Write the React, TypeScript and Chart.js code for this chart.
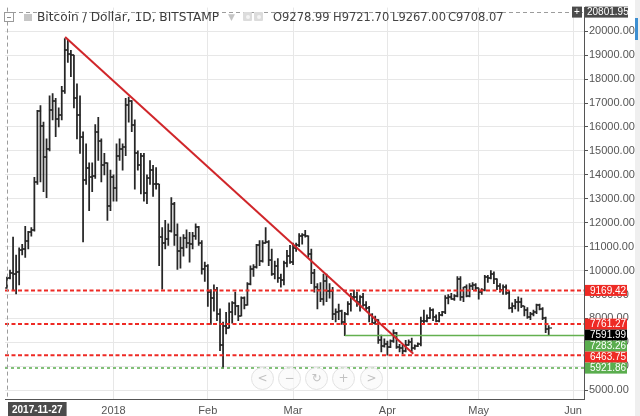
import React, { useEffect, useRef } from 'react';
import { Chart, registerables } from 'chart.js';

Chart.register(...registerables);

// Daily BTC/USD bars, each entry [open, high, low, close]; first bar is 2017-11-27
const nov2017 = [
  [9278.99, 9721.7, 9267.0, 9708.07],
  [9708, 10020, 9650, 9890],
  [9890, 11400, 9200, 9870],
  [9870, 10650, 9020, 9920],
];
const dec2017 = [
  [9920, 10950, 9400, 10860], [10860, 11100, 10650, 10900], [10900, 11850, 10550, 11250],
  [11250, 11640, 10900, 11600], [11600, 11800, 11440, 11700], [11700, 13900, 11650, 13700],
  [13700, 16700, 13600, 16650], [16650, 16900, 13700, 16050], [16050, 16200, 13300, 14750],
  [14750, 15500, 13050, 15100], [15100, 17300, 15000, 16700], [16700, 17400, 16300, 17100],
  [17100, 17200, 15600, 16350], [16350, 16800, 16000, 16500], [16500, 17700, 16300, 17500],
  [17500, 19700, 17400, 19200], [19200, 19660, 18700, 19050], [19050, 19200, 18100, 19000],
  [19000, 19000, 16800, 17200], [17200, 17800, 15500, 16500], [16500, 17300, 14900, 15600],
  [15600, 15800, 11200, 13800], [13800, 15300, 13600, 14300], [14300, 14500, 12500, 13900],
  [13900, 14500, 13300, 13950], [13950, 16100, 13850, 15800], [15800, 16400, 14600, 15400],
  [15400, 15500, 13700, 14400], [14400, 14900, 14000, 14500], [14500, 14500, 12100, 12700],
  [12700, 14200, 12500, 13900],
];
const jan2018 = [
  [13900, 14000, 12900, 13450], [13450, 15300, 12900, 14800], [14800, 15500, 14600, 15100],
  [15100, 15300, 14200, 15150], [15150, 17200, 14800, 16900], [16900, 17250, 16200, 17100],
  [17100, 17100, 15800, 16100], [16100, 16300, 13400, 14900], [14900, 15000, 14200, 14400],
  [14400, 14900, 13200, 14800], [14800, 14900, 12900, 13250], [13250, 14000, 12800, 13850],
  [13850, 14600, 13600, 14200], [14200, 14400, 13100, 13600], [13600, 14300, 13400, 13600],
  [13600, 13600, 10200, 11400], [11400, 11800, 9220, 11150], [11150, 12100, 10900, 11300],
  [11300, 11950, 11050, 11650], [11650, 13050, 11600, 12800], [12800, 12850, 11050, 11500],
  [11500, 11950, 10050, 10800], [10800, 11400, 10100, 10950], [10950, 11500, 10600, 11350],
  [11350, 11700, 10950, 11150], [11150, 11600, 10350, 11100], [11100, 11600, 10900, 11450],
  [11450, 11950, 11300, 11800], [11800, 11850, 11050, 11150], [11150, 11250, 9850, 10050],
  [10050, 10350, 9550, 10200],
];
const feb2018 = [
  [10200, 10250, 8500, 9100], [9100, 9200, 7750, 8850], [8850, 9400, 8300, 9200],
  [9200, 9300, 7900, 8200], [8200, 8400, 6650, 6900], [6900, 7850, 5922, 7700],
  [7700, 8250, 7350, 7600], [7600, 8650, 7600, 8250], [8250, 8700, 7800, 8650],
  [8650, 9100, 8150, 8500], [8500, 8550, 7900, 8100], [8100, 8900, 8100, 8850],
  [8850, 8900, 8400, 8550], [8550, 9500, 8550, 9450], [9450, 10200, 9400, 10050],
  [10050, 10250, 9750, 10150], [10150, 11100, 10100, 11050], [11050, 11250, 10200, 10400],
  [10400, 11250, 10350, 11150], [11150, 11800, 11150, 11200], [11200, 11250, 10200, 10450],
  [10450, 10900, 9800, 9850], [9850, 10400, 9650, 10200], [10200, 10500, 9500, 9700],
  [9700, 9850, 9300, 9600], [9600, 10400, 9400, 10300], [10300, 10850, 10150, 10600],
  [10600, 11050, 10300, 10350],
];
const mar2018 = [
  [10350, 11150, 10250, 10950], [10950, 11150, 10800, 11050], [11050, 11550, 11000, 11450],
  [11450, 11550, 11100, 11500], [11500, 11680, 11400, 11450], [11450, 11450, 10550, 10700],
  [10700, 10900, 9450, 9900], [9900, 10050, 9100, 9300], [9300, 9450, 8400, 9200],
  [9200, 9500, 8700, 8800], [8800, 9850, 8550, 9550], [9550, 9850, 8700, 9150],
  [9150, 9450, 8850, 9150], [9150, 9300, 7950, 8200], [8200, 8400, 7850, 8250],
  [8250, 8600, 7950, 8300], [8300, 8350, 7750, 7850], [7850, 8250, 7283, 8200],
  [8200, 8700, 8150, 8600], [8600, 9050, 8300, 8900], [8900, 9180, 8800, 8900],
  [8900, 9100, 8500, 8700], [8700, 8950, 8300, 8900], [8900, 9050, 8500, 8550],
  [8550, 8700, 8350, 8450], [8450, 8500, 7850, 8150], [8150, 8200, 7750, 7800],
  [7800, 8100, 7750, 7950], [7950, 7950, 6950, 7100], [7100, 7300, 6600, 6850],
  [6850, 7150, 6800, 6950],
];
const apr2018 = [
  [6950, 7050, 6464, 6800], [6800, 7100, 6780, 7050], [7050, 7520, 7000, 7400],
  [7400, 7420, 6750, 6800], [6800, 6920, 6600, 6780], [6780, 6880, 6520, 6620],
  [6620, 7080, 6600, 6900], [6900, 7100, 6880, 7020], [7020, 7180, 6620, 6780],
  [6780, 6900, 6700, 6840], [6840, 6980, 6820, 6950], [6950, 8050, 6850, 7900],
  [7900, 8350, 7800, 7900], [7900, 8150, 7850, 8000], [8000, 8450, 8000, 8350],
  [8350, 8400, 7900, 8050], [8050, 8150, 7850, 7900], [7900, 8250, 7850, 8150],
  [8150, 8300, 8100, 8250], [8250, 8950, 8200, 8850], [8850, 9000, 8600, 8900],
  [8900, 9050, 8800, 8800], [8800, 9000, 8750, 8950], [8950, 9750, 8900, 9650],
  [9650, 9750, 8750, 8900], [8900, 9300, 8700, 9300], [9300, 9400, 8900, 8950],
  [8950, 9450, 8900, 9350], [9350, 9500, 9200, 9400], [9400, 9450, 9150, 9250],
];
const may2018 = [
  [9250, 9250, 8800, 9100], [9100, 9250, 9000, 9200], [9200, 9800, 9150, 9750],
  [9750, 9800, 9500, 9700], [9700, 10000, 9650, 9850], [9850, 9950, 9450, 9650],
  [9650, 9650, 9200, 9350], [9350, 9450, 9100, 9200], [9200, 9400, 9000, 9300],
  [9300, 9400, 9000, 9050], [9050, 9150, 8400, 8450], [8450, 8650, 8250, 8500],
  [8500, 8800, 8400, 8700], [8700, 8900, 8300, 8700], [8700, 8850, 8450, 8500],
  [8500, 8500, 8100, 8350], [8350, 8450, 8000, 8050], [8050, 8250, 7950, 8200],
  [8200, 8350, 8100, 8250], [8250, 8600, 8200, 8550], [8550, 8600, 8350, 8400],
  [8400, 8450, 7950, 8000], [8000, 8050, 7400, 7550], [7550, 7700, 7300, 7591.99],
];

// Month tick positions (day index from 2017-11-27) and labels
const monthTickDays = [35, 66, 94, 125, 155, 186];
const monthTickLabels = ['2018', 'Feb', 'Mar', 'Apr', 'May', 'Jun'];
const priceTicks = [5000, 6000, 7000, 8000, 9000, 10000, 11000, 12000, 13000, 14000, 15000, 16000, 17000, 18000, 19000, 20000];

// Drawn levels
const redLevels = [9169.42, 7761.27, 6463.75];
const greenDashedLevel = 5921.86;
const supportLevel = 7283.26;
const supportStartDay = 111;
const trendDays = [19.1, 133.5];
const trendPrices = [19760, 6520];
const lastClose = 7591.99;

// Crosshair state
const crosshairDay = 0;
const crosshairPrice = 20801.95;
const crosshairDate = '2017-11-27';
const symbolTitle = 'Bitcoin / Dollar, 1D, BITSTAMP';

const xRange = [-0.65, 189.6];
const yRange = [4631, 20990];

const RED = '#ee2a24';
const GREEN = '#5aad4e';
const AXIS_FONT = "'Liberation Sans', Arial, sans-serif";

function makeTick(side: 'left' | 'right', color: string) {
  const c = document.createElement('canvas');
  c.width = 6;
  c.height = 2;
  const g = c.getContext('2d')!;
  g.fillStyle = color;
  if (side === 'left') g.fillRect(0, 0.4, 3.2, 1.2);
  else g.fillRect(2.8, 0.4, 3.2, 1.2);
  return c;
}

const overlayPlugin = {
  id: 'tvOverlay',
  afterDatasetsDraw(chart: any) {
    const { ctx, chartArea, scales } = chart;
    const cx = Math.round(scales.x.getPixelForValue(crosshairDay)) + 0.5;
    const cy = Math.round(scales.y.getPixelForValue(crosshairPrice)) + 0.5;
    ctx.save();
    ctx.strokeStyle = '#9c9c9c';
    ctx.lineWidth = 1;
    ctx.setLineDash([4, 3]);
    ctx.beginPath();
    ctx.moveTo(cx, chartArea.top);
    ctx.lineTo(cx, chartArea.bottom);
    ctx.stroke();
    ctx.beginPath();
    ctx.moveTo(chartArea.left, cy);
    ctx.lineTo(chartArea.right, cy);
    ctx.stroke();
    ctx.restore();
  },
  afterDraw(chart: any) {
    const { ctx, chartArea, scales } = chart;
    const ys = scales.y;
    const xs = scales.x;
    const labels = [
      { v: redLevels[0], bg: RED },
      { v: redLevels[1], bg: RED },
      { v: lastClose, bg: '#000000' },
      { v: supportLevel, bg: GREEN },
      { v: redLevels[2], bg: RED },
      { v: greenDashedLevel, bg: GREEN },
    ].sort((a, b) => b.v - a.v);
    const h = 11;
    const left = chartArea.right + 1;
    const w = 42;
    ctx.save();
    ctx.font = `10px ${AXIS_FONT}`;
    ctx.textBaseline = 'middle';
    ctx.textAlign = 'left';
    let prevBottom = -Infinity;
    for (const l of labels) {
      let top = ys.getPixelForValue(l.v) - h / 2;
      if (top < prevBottom) top = prevBottom;
      ctx.fillStyle = l.bg;
      ctx.fillRect(left, top, w, h);
      ctx.fillStyle = '#ffffff';
      ctx.fillText(l.v.toFixed(2), left + 5, top + h / 2 + 0.5);
      prevBottom = top + h;
    }
    // crosshair price label
    const cy = ys.getPixelForValue(crosshairPrice);
    ctx.fillStyle = '#4b4b4b';
    ctx.fillRect(left, cy - h / 2, w + 1, h);
    ctx.fillRect(chartArea.right - 12, cy - h / 2, 10, h);
    ctx.fillStyle = '#ffffff';
    ctx.fillText(crosshairPrice.toFixed(2), left + 2, cy + 0.5);
    ctx.textAlign = 'center';
    ctx.fillText('+', chartArea.right - 7, cy + 0.5);
    // crosshair date label
    const cx = xs.getPixelForValue(crosshairDay);
    ctx.font = `bold 10px ${AXIS_FONT}`;
    const tw = ctx.measureText(crosshairDate).width + 8;
    const bx = Math.max(cx - tw / 2, chartArea.left + 3);
    ctx.fillStyle = '#4b4b4b';
    ctx.fillRect(bx, chartArea.bottom + 3, tw, 15);
    ctx.fillStyle = '#ffffff';
    ctx.fillText(crosshairDate, bx + tw / 2, chartArea.bottom + 11);
    ctx.restore();
  },
};

export default function App() {
  const ref = useRef<HTMLCanvasElement>(null);

  useEffect(() => {
    document.body.style.margin = '0';
    const canvas = ref.current!;
    const ohlc = [...nov2017, ...dec2017, ...jan2018, ...feb2018, ...mar2018, ...apr2018, ...may2018];
    const barColor = '#262626';
    const leftTick = makeTick('left', barColor);
    const rightTick = makeTick('right', barColor);

    const levelLine = (v: number, color: string, dash: number[], width: number, fromX = xRange[0]) => ({
      type: 'line' as const,
      data: [{ x: fromX, y: v }, { x: xRange[1], y: v }],
      borderColor: color,
      borderWidth: width,
      borderDash: dash,
      pointRadius: 0,
      fill: false,
      tension: 0,
      order: 1,
    });

    const chart = new Chart(canvas, {
      type: 'bar',
      data: {
        datasets: [
          {
            type: 'line',
            data: trendDays.map((d, i) => ({ x: d, y: trendPrices[i] })),
            borderColor: '#d0262a',
            borderWidth: 2,
            pointRadius: 0,
            fill: false,
            order: 0,
          },
          ...redLevels.map((v) => levelLine(v, RED, [4, 2.5], 2)),
          levelLine(greenDashedLevel, GREEN, [3, 3], 1.5),
          levelLine(supportLevel, '#63b04f', [], 1.5, supportStartDay),
          {
            type: 'bar',
            data: ohlc.map((d, i) => ({ x: i, y: [d[2], d[1]] })),
            backgroundColor: barColor,
            barThickness: 1.1,
            order: 5,
          },
          {
            type: 'scatter',
            data: ohlc.map((d, i) => ({ x: i, y: d[0] })),
            pointStyle: leftTick,
            pointRadius: 2,
            order: 5,
          },
          {
            type: 'scatter',
            data: ohlc.map((d, i) => ({ x: i, y: d[3] })),
            pointStyle: rightTick,
            pointRadius: 2,
            order: 5,
          },
        ] as any,
      },
      options: {
        responsive: false,
        animation: false,
        events: [],
        layout: { padding: 0 },
        plugins: { legend: { display: false }, tooltip: { enabled: false } },
        scales: {
          x: {
            type: 'linear',
            min: xRange[0],
            max: xRange[1],
            offset: false,
            grid: { color: '#e7e7e7', drawTicks: false, offset: false },
            border: { display: true, color: '#555555' },
            ticks: {
              autoSkip: false,
              maxRotation: 0,
              padding: 5,
              color: '#555555',
              font: { family: AXIS_FONT, size: 11 },
              callback: (_v: any, i: number) => monthTickLabels[i],
            },
            afterBuildTicks: (s: any) => {
              s.ticks = monthTickDays.map((v) => ({ value: v }));
            },
            afterFit: (s: any) => {
              s.height = 17;
            },
          },
          y: {
            type: 'linear',
            position: 'right',
            min: yRange[0],
            max: yRange[1],
            grid: { color: '#e7e7e7', tickColor: '#555555', tickLength: 4 },
            border: { display: true, color: '#555555' },
            ticks: {
              padding: 1,
              color: '#555555',
              font: { family: AXIS_FONT, size: 11 },
              callback: (v: any) => Number(v).toFixed(2),
            },
            afterBuildTicks: (s: any) => {
              s.ticks = priceTicks.map((v) => ({ value: v }));
            },
            afterFit: (s: any) => {
              s.width = 56;
            },
          },
        },
      } as any,
      plugins: [overlayPlugin],
    });
    return () => chart.destroy();
  }, []);

  const [o, hh, l, c] = nov2017[0];
  const legendItems = [
    { t: 'O' + o.toFixed(2), x: 273 },
    { t: 'H' + hh.toFixed(2), x: 333 },
    { t: 'L' + l.toFixed(2), x: 392 },
    { t: 'C' + c.toFixed(2), x: 448 },
  ];
  const navGlyphs = ['<', '\u2212', '\u21BB', '+', '>'];
  const navX = [262, 289, 316, 343, 371];

  return (
    <div style={{ position: 'absolute', left: 0, top: 0, width: 640, height: 416, background: '#ffffff', overflow: 'hidden' }}>
      <canvas ref={ref} width={640} height={416} style={{ position: 'absolute', left: 0, top: 0, width: 640, height: 416 }} />
      <div style={{ position: 'absolute', left: 4, top: 12, width: 8, height: 8, border: '1px solid #9a9a9a', background: '#fff' }}>
        <div style={{ position: 'absolute', left: 2, top: 3.5, width: 4, height: 1, background: '#8a8a8a' }} />
      </div>
      <div style={{ position: 'absolute', left: 24, top: 14, width: 8, height: 7, background: '#c6c6c6' }} />
      <div style={{ position: 'absolute', left: 37, top: 10, fontFamily: "'DejaVu Sans', sans-serif", fontSize: 12.2, lineHeight: '15px', color: '#3c3c3c', whiteSpace: 'nowrap' }}>
        {symbolTitle}
      </div>
      <div style={{ position: 'absolute', left: 228, top: 10, fontFamily: "'DejaVu Sans', sans-serif", fontSize: 9, lineHeight: '15px', color: '#c4c4c4' }}>▼</div>
      <div style={{ position: 'absolute', left: 243, top: 12, width: 9, height: 9, background: '#dcdcdc', borderRadius: 1 }}>
        <div style={{ position: 'absolute', left: 2.5, top: 2.5, width: 4, height: 4, borderRadius: 2, background: '#f4f4f4' }} />
      </div>
      <div style={{ position: 'absolute', left: 254, top: 12, width: 9, height: 9, background: '#dcdcdc', borderRadius: 1 }}>
        <div style={{ position: 'absolute', left: 2.5, top: 2.5, width: 4, height: 4, borderRadius: 2, background: '#f4f4f4' }} />
      </div>
      {legendItems.map((it) => (
        <div key={it.t} style={{ position: 'absolute', left: it.x, top: 10, fontFamily: "'DejaVu Sans', sans-serif", fontSize: 11.5, lineHeight: '15px', color: '#444444', whiteSpace: 'nowrap' }}>
          {it.t}
        </div>
      ))}
      {navGlyphs.map((g, i) => (
        <div key={i} style={{ position: 'absolute', left: navX[i] - 11, top: 367, width: 21, height: 21, borderRadius: '50%', border: '1px solid #e2e2e2', background: 'rgba(250,250,250,0.7)', color: '#c2c2c2', fontFamily: "'DejaVu Sans', sans-serif", fontSize: 12, lineHeight: '21px', textAlign: 'center' }}>
          {g}
        </div>
      ))}
      <div style={{ position: 'absolute', left: 635, top: 0, width: 5, height: 416, background: '#efefef' }} />
      <div style={{ position: 'absolute', left: 635, top: 18, width: 3, height: 22, background: '#3d8fd1' }} />
    </div>
  );
}
